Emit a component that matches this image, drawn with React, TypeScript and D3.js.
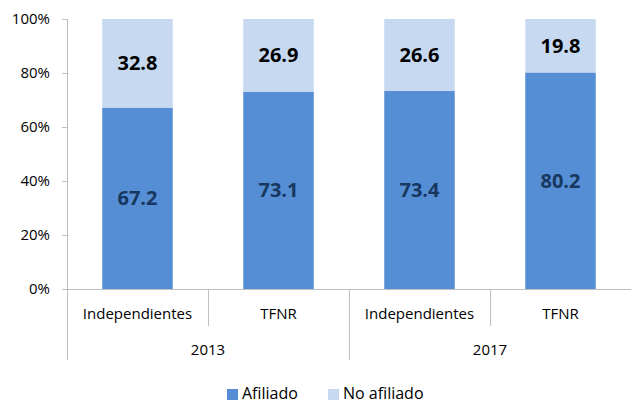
import React from "react";
import * as d3 from "d3";

const categories = ["Independientes", "TFNR", "Independientes", "TFNR"];
const years = ["2013", "2017"];
const afiliado = [67.2, 73.1, 73.4, 80.2];
const noAfiliado = [32.8, 26.9, 26.6, 19.8];
const yTicks = [0, 20, 40, 60, 80, 100];
const seriesNames = ["Afiliado", "No afiliado"];
const colors = ["#558ed5", "#c6d9f1"];

const W = 633, H = 404;
const left = 67, right = 631, top = 19, bottom = 289;
const FONT = "'Open Sans', sans-serif";

export default function App() {
  const x = d3.scaleBand<number>().domain(d3.range(categories.length)).range([left, right]).paddingInner(0).paddingOuter(0);
  const y = d3.scaleLinear().domain([0, 100]).range([bottom, top]);
  const bw = x.bandwidth() * 0.5;
  const axisColor = "#bfbfbf";
  return (
    <svg width={W} height={H} style={{ position: "absolute", left: 0, top: 0 }} fontFamily={FONT}>
      {/* bars */}
      {categories.map((c, i) => {
        const cx = (x(i) as number) + x.bandwidth() / 2;
        const a = afiliado[i], n = noAfiliado[i];
        return (
          <g key={i}>
            <rect x={cx - bw / 2} y={y(a)} width={bw} height={y(0) - y(a)} fill={colors[0]} />
            <rect x={cx - bw / 2} y={y(a + n)} width={bw} height={y(a) - y(a + n)} fill={colors[1]} />
            <text x={cx} y={(y(0) + y(a)) / 2} dy="0.35em" textAnchor="middle" fontSize={20} fontWeight="bold" fill="#17375e">{a.toFixed(1)}</text>
            <text x={cx} y={(y(a) + y(a + n)) / 2} dy="0.35em" textAnchor="middle" fontSize={20} fontWeight="bold" fill="#000">{n.toFixed(1)}</text>
          </g>
        );
      })}
      {/* y axis */}
      <line x1={left + 0.5} x2={left + 0.5} y1={top} y2={360} stroke={axisColor} />
      {yTicks.map((t) => (
        <g key={t}>
          <line x1={left - 5} x2={left} y1={Math.round(y(t)) + 0.5} y2={Math.round(y(t)) + 0.5} stroke={axisColor} />
          <text x={50} y={y(t)} dy="0.35em" textAnchor="end" fontSize={15} fill="#000">{t}%</text>
        </g>
      ))}
      {/* x axis */}
      <line x1={left} x2={right} y1={bottom + 0.5} y2={bottom + 0.5} stroke={axisColor} />
      {categories.map((c, i) => {
        const xs = (x(i) as number) + x.bandwidth();
        if (i === categories.length - 1) return null;
        const long = (i + 1) % 2 === 0;
        return <line key={"s" + i} x1={Math.round(xs) + 0.5} x2={Math.round(xs) + 0.5} y1={bottom} y2={long ? 360 : 326} stroke={axisColor} />;
      })}
      {categories.map((c, i) => (
        <text key={"c" + i} x={(x(i) as number) + x.bandwidth() / 2} y={314} dy="0.35em" textAnchor="middle" fontSize={15} fill="#000">{c}</text>
      ))}
      {years.map((yr, g) => {
        const cx = ((x(g * 2) as number) + (x(g * 2 + 1) as number) + x.bandwidth()) / 2;
        return <text key={yr} x={cx} y={350} dy="0.35em" textAnchor="middle" fontSize={15} fill="#000">{yr}</text>;
      })}
      {/* legend */}
      {seriesNames.map((s, i) => {
        const lx = i === 0 ? 227 : 328;
        return (
          <g key={s}>
            <rect x={lx} y={389} width={11} height={11} fill={colors[i]} />
            <text x={lx + 15} y={393} dy="0.35em" fontSize={16} fill="#000">{s}</text>
          </g>
        );
      })}
    </svg>
  );
}
